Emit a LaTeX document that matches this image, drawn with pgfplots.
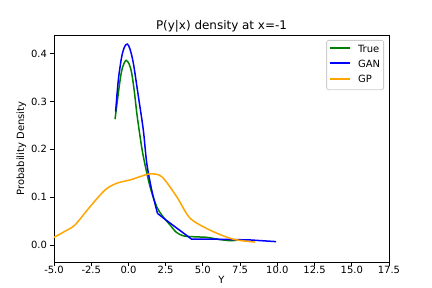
\documentclass[border=0pt]{standalone}
\usepackage{pgfplots}
\pgfplotsset{compat=1.18}
\usepackage{fontspec}
\setmainfont{DejaVu Sans}
\usetikzlibrary{calc}
\definecolor{mplgreen}{RGB}{0,128,0}
\definecolor{mplblue}{RGB}{0,0,255}
\definecolor{mplorange}{RGB}{255,165,0}
\definecolor{legedge}{RGB}{204,204,204}
\newcommand{\legline}[1]{\textcolor{#1}{\rule[3bp]{20bp}{2bp}}}
\begin{document}
\begin{tikzpicture}
\begin{axis}[name=ax, at={(0,0)}, anchor=south west,
  scale only axis, width=335bp, height=227bp,
  xmin=-5, xmax=17.5, ymin=-0.0356, ymax=0.439,
  xtick={-5,-2.5,0,2.5,5,7.5,10,12.5,15,17.5},
  ytick={0,0.1,0.2,0.3,0.4},
  xtick pos=bottom, ytick pos=left,
  tick align=outside, major tick length=3.5bp,
  tick style={black, line width=0.8bp},
  axis line style={line width=0.8bp},
  xticklabel style={yshift=3bp, /pgf/number format/.cd, fixed, fixed zerofill, precision=1},
  yticklabel style={/pgf/number format/.cd, fixed, fixed zerofill, precision=1},
  /pgf/number format/assume math mode=true,
  ticklabel style={font=\fontsize{10}{12}\selectfont},
  label style={font=\fontsize{10}{12}\selectfont},
  xlabel={Y}, ylabel={Probability Density},
  xlabel style={yshift=4bp},
  ylabel style={yshift=-2bp},
  clip=true,
]
\addplot[mplgreen, line width=1.5bp, smooth] coordinates {
(-0.90,0.263) (-0.56,0.345) (-0.38,0.373) (-0.16,0.386) (0.05,0.378) (0.22,0.359) (0.40,0.32) (0.56,0.276) (0.78,0.227) (1.0,0.185) (1.45,0.122) (1.9,0.080) (2.35,0.058) (2.79,0.042) (3.2,0.027) (3.69,0.019) (4.5,0.017) (5.26,0.016) (6.0,0.012) (6.82,0.009) (7.3,0.010)
};
\addplot[mplblue, line width=1.5bp, smooth] coordinates {
(-0.86,0.279) (-0.68,0.345) (-0.45,0.394) (-0.25,0.415) (-0.07,0.420) (0.10,0.410) (0.33,0.380) (0.67,0.310) (1.0,0.240) (1.23,0.171) (1.56,0.115) (1.95,0.066)
};
\addplot[mplblue, line width=1.5bp] coordinates {
(1.95,0.066) (2.57,0.051) (4.25,0.012) (6.0,0.012) (8.17,0.0105) (9.92,0.007)
};
\addplot[mplorange, line width=1.5bp, smooth] coordinates {
(-5.3,0.011) (-5.0,0.016) (-4.3,0.028) (-3.59,0.042) (-2.58,0.080) (-1.57,0.115) (-0.79,0.129) (0.11,0.136) (0.8,0.143) (1.45,0.1485) (2.23,0.143) (3.24,0.101) (4.14,0.056) (5.48,0.031) (6.82,0.014) (7.6,0.009) (8.5,0.006)
};
\end{axis}
\node[anchor=base, inner sep=0pt, font=\fontsize{12}{14}\selectfont] at ($(ax.north)+(0,5.5bp)$) {P(y|x) density at x=-1};
\node[draw=legedge, line width=0.8bp, rounded corners=2bp, fill=white, inner sep=3.5bp, anchor=north east, font=\fontsize{10}{12}\selectfont]
  at ($(ax.north east)+(-5bp,-5bp)$)
  {\begin{tabular}{@{}l@{\hspace{8bp}}l@{}}
   \legline{mplgreen} & True\\[3.2bp]
   \legline{mplblue} & GAN\\[3.2bp]
   \legline{mplorange} & GP
   \end{tabular}};
\pgfresetboundingbox
\path ($(ax.south west)+(-54bp,-26bp)$) rectangle ($(ax.north east)+(43bp,35bp)$);
\end{tikzpicture}
\end{document}
